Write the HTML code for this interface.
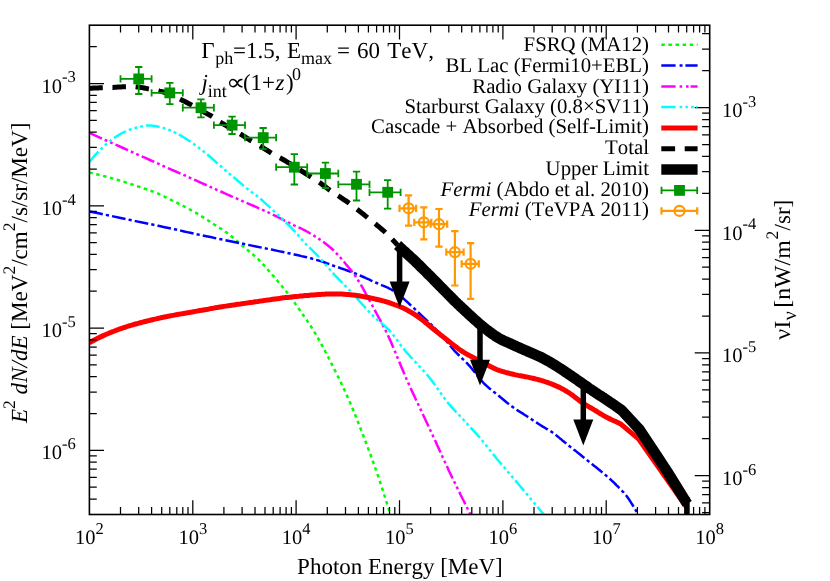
<!DOCTYPE html>
<html><head><meta charset="utf-8"><title>EGB spectrum</title>
<style>html,body{margin:0;padding:0;background:#fff}body{width:830px;height:581px;overflow:hidden;font-family:"Liberation Serif",serif}</style></head>
<body>
<svg width="830" height="581" viewBox="0 0 830 581" style="display:block;will-change:transform">
<rect width="830" height="581" fill="#fff"/>
<defs><clipPath id="c"><rect x="89.4" y="25.2" width="620.3" height="489.3"/></clipPath></defs>
<g clip-path="url(#c)" fill="none" stroke-linejoin="round">
<path d="M89.3 172.5 L90.5 172.8 L91.9 173.1 L93.6 173.5 L95.5 174.0 L97.6 174.5 L99.8 175.0 L102.1 175.6 L104.5 176.2 L106.9 176.8 L109.3 177.4 L111.6 178.1 L113.9 178.7 L116.2 179.4 L118.6 180.1 L121.1 180.9 L123.7 181.7 L126.3 182.6 L128.9 183.4 L131.5 184.3 L134.0 185.1 L136.4 185.9 L138.7 186.7 L140.8 187.4 L142.8 188.1 L144.6 188.7 L146.3 189.3 L147.8 189.8 L149.2 190.3 L150.6 190.8 L151.8 191.2 L153.1 191.7 L154.2 192.1 L155.4 192.6 L156.5 193.0 L157.6 193.4 L158.7 193.9 L159.8 194.4 L160.8 194.8 L161.8 195.3 L162.7 195.7 L163.6 196.1 L164.4 196.6 L165.3 197.0 L166.2 197.5 L167.1 197.9 L168.0 198.4 L169.0 198.9 L170.0 199.4 L171.1 199.9 L172.2 200.5 L173.4 201.1 L174.6 201.6 L175.8 202.2 L177.1 202.8 L178.3 203.5 L179.6 204.1 L180.8 204.7 L182.1 205.3 L183.3 206.0 L184.5 206.6 L185.7 207.2 L186.9 207.9 L188.1 208.5 L189.3 209.2 L190.5 209.8 L191.7 210.5 L192.9 211.1 L194.1 211.8 L195.3 212.5 L196.5 213.2 L197.7 213.9 L198.9 214.6 L200.1 215.3 L201.3 216.1 L202.5 216.9 L203.7 217.6 L204.9 218.4 L206.2 219.2 L207.4 220.0 L208.6 220.8 L209.8 221.6 L211.0 222.4 L212.2 223.2 L213.4 224.0 L214.6 224.8 L215.8 225.5 L217.0 226.3 L218.2 227.0 L219.4 227.8 L220.6 228.5 L221.8 229.3 L223.0 230.1 L224.2 230.8 L225.4 231.7 L226.6 232.5 L227.8 233.4 L229.0 234.3 L230.2 235.3 L231.4 236.3 L232.6 237.3 L233.8 238.3 L235.1 239.4 L236.3 240.4 L237.5 241.5 L238.7 242.6 L239.9 243.6 L241.1 244.7 L242.3 245.7 L243.5 246.7 L244.7 247.7 L246.0 248.7 L247.2 249.8 L248.4 250.8 L249.7 251.8 L250.9 252.8 L252.1 253.8 L253.3 254.8 L254.4 255.8 L255.6 256.9 L256.7 257.9 L257.8 258.9 L258.8 259.9 L259.7 260.8 L260.6 261.8 L261.5 262.7 L262.4 263.7 L263.3 264.7 L264.3 265.7 L265.3 266.8 L266.3 268.0 L267.5 269.3 L268.7 270.7 L270.0 272.2 L271.5 273.9 L273.0 275.7 L274.7 277.6 L276.3 279.5 L278.0 281.5 L279.7 283.5 L281.4 285.5 L283.0 287.5 L284.6 289.5 L286.1 291.3 L287.5 293.1 L288.8 294.8 L290.1 296.4 L291.2 298.0 L292.4 299.6 L293.5 301.1 L294.6 302.6 L295.6 304.2 L296.7 305.7 L297.7 307.2 L298.8 308.8 L299.9 310.4 L301.0 312.0 L302.1 313.6 L303.3 315.2 L304.4 316.8 L305.5 318.4 L306.6 319.9 L307.7 321.6 L308.9 323.2 L310.0 325.0 L311.2 326.8 L312.4 328.7 L313.7 330.7 L315.0 332.9 L316.3 335.2 L317.8 337.7 L319.2 340.3 L320.7 343.0 L322.2 345.8 L323.7 348.6 L325.2 351.5 L326.8 354.4 L328.3 357.3 L329.8 360.3 L331.3 363.2 L332.7 366.0 L334.1 368.8 L335.5 371.6 L336.9 374.4 L338.3 377.1 L339.6 379.9 L341.0 382.7 L342.3 385.5 L343.7 388.4 L345.0 391.3 L346.4 394.3 L347.7 397.3 L349.1 400.4 L350.5 403.6 L351.9 406.9 L353.3 410.3 L354.7 413.7 L356.1 417.2 L357.5 420.7 L358.8 424.3 L360.2 427.8 L361.6 431.3 L362.9 434.7 L364.2 438.0 L365.4 441.3 L366.6 444.5 L367.8 447.6 L369.0 450.7 L370.1 453.8 L371.2 456.8 L372.3 459.8 L373.4 462.8 L374.4 465.7 L375.5 468.6 L376.5 471.5 L377.5 474.4 L378.5 477.3 L379.5 480.2 L380.5 483.3 L381.5 486.4 L382.5 489.5 L383.5 492.6 L384.5 495.6 L385.4 498.5 L386.3 501.3 L387.1 503.9 L387.8 506.2 L388.5 508.3 L389.0 510.0 L389.4 511.4 L389.8 512.5 L390.0 513.3 L390.2 513.8 L390.3 514.2 L390.4 514.4 L390.4 514.6 L390.4 514.6 L390.4 514.6 L390.4 514.6 L390.4 514.7 L390.4 514.8" stroke="#00ff00" stroke-width="2.5" stroke-dasharray="3.5 3.6"/>
<path d="M89.3 211.4 L93.3 212.2 L98.6 213.3 L104.9 214.7 L111.9 216.1 L119.5 217.7 L127.5 219.4 L135.5 221.1 L143.5 222.7 L151.1 224.3 L158.3 225.8 L164.6 227.2 L170.0 228.3 L174.4 229.2 L177.9 230.0 L180.8 230.6 L183.2 231.2 L185.3 231.7 L187.2 232.1 L189.2 232.6 L191.3 233.0 L193.8 233.6 L196.8 234.3 L200.5 235.0 L205.0 236.0 L210.5 237.1 L216.9 238.5 L224.0 239.9 L231.7 241.5 L239.7 243.1 L247.9 244.8 L256.0 246.4 L264.0 248.1 L271.5 249.6 L278.5 251.1 L284.7 252.4 L290.0 253.5 L294.4 254.5 L298.2 255.3 L301.5 256.1 L304.3 256.7 L306.7 257.3 L308.9 257.8 L310.7 258.3 L312.4 258.8 L314.0 259.2 L315.6 259.7 L317.2 260.1 L318.9 260.6 L320.6 261.1 L322.2 261.6 L323.5 262.0 L324.8 262.5 L326.0 262.9 L327.1 263.3 L328.1 263.7 L329.1 264.1 L330.1 264.5 L331.2 264.9 L332.2 265.3 L333.4 265.7 L334.6 266.1 L335.8 266.5 L337.0 266.9 L338.2 267.3 L339.4 267.7 L340.6 268.2 L341.8 268.6 L343.0 269.0 L344.2 269.4 L345.4 269.8 L346.6 270.3 L347.8 270.7 L349.0 271.2 L350.2 271.6 L351.4 272.1 L352.6 272.5 L353.8 273.0 L355.1 273.5 L356.3 274.0 L357.5 274.5 L358.7 275.0 L359.9 275.5 L361.1 276.0 L362.3 276.5 L363.5 277.0 L364.7 277.5 L365.9 278.1 L367.1 278.6 L368.3 279.2 L369.5 279.7 L370.7 280.3 L371.9 280.8 L373.1 281.4 L374.3 281.9 L375.5 282.5 L376.7 283.0 L377.9 283.5 L379.1 284.1 L380.4 284.6 L381.6 285.1 L382.9 285.6 L384.1 286.1 L385.3 286.6 L386.6 287.2 L387.8 287.7 L388.9 288.3 L390.1 288.9 L391.2 289.5 L392.3 290.1 L393.3 290.8 L394.2 291.4 L395.2 292.0 L396.1 292.7 L397.0 293.3 L397.9 294.0 L398.9 294.8 L399.8 295.5 L400.8 296.4 L401.9 297.3 L403.0 298.2 L404.2 299.2 L405.4 300.3 L406.7 301.5 L408.0 302.7 L409.4 304.0 L410.8 305.3 L412.2 306.6 L413.6 307.9 L414.9 309.2 L416.3 310.5 L417.6 311.8 L418.9 313.0 L420.2 314.2 L421.4 315.3 L422.6 316.5 L423.8 317.6 L425.0 318.7 L426.2 319.8 L427.4 321.0 L428.6 322.1 L429.8 323.2 L431.0 324.4 L432.2 325.6 L433.4 326.8 L434.6 328.1 L435.9 329.4 L437.2 330.8 L438.5 332.2 L439.8 333.6 L441.1 335.1 L442.3 336.5 L443.5 337.9 L444.7 339.2 L445.8 340.4 L446.9 341.6 L447.8 342.7 L448.6 343.7 L449.3 344.5 L449.9 345.2 L450.5 345.9 L450.9 346.5 L451.4 347.1 L451.8 347.7 L452.3 348.3 L452.9 349.0 L453.5 349.7 L454.2 350.5 L455.0 351.4 L456.0 352.4 L457.0 353.4 L458.1 354.5 L459.3 355.7 L460.5 356.9 L461.8 358.1 L463.1 359.4 L464.4 360.6 L465.7 361.9 L467.0 363.2 L468.3 364.6 L469.5 365.9 L470.7 367.3 L471.9 368.7 L473.1 370.2 L474.3 371.7 L475.5 373.2 L476.7 374.7 L477.9 376.3 L479.1 377.8 L480.3 379.2 L481.5 380.7 L482.7 382.0 L483.9 383.3 L485.1 384.5 L486.3 385.6 L487.5 386.7 L488.7 387.8 L489.9 388.8 L491.2 389.8 L492.4 390.7 L493.6 391.7 L494.8 392.6 L496.0 393.6 L497.2 394.5 L498.4 395.5 L499.6 396.5 L500.8 397.5 L502.0 398.5 L503.2 399.5 L504.4 400.5 L505.6 401.5 L506.8 402.5 L508.0 403.4 L509.2 404.4 L510.4 405.3 L511.6 406.2 L512.8 407.1 L514.0 408.0 L515.2 408.8 L516.4 409.6 L517.6 410.4 L518.8 411.2 L520.0 411.9 L521.3 412.7 L522.5 413.4 L523.7 414.2 L524.9 415.0 L526.1 415.7 L527.3 416.5 L528.5 417.3 L529.7 418.1 L531.0 418.9 L532.2 419.7 L533.4 420.5 L534.7 421.3 L535.9 422.1 L537.1 422.9 L538.3 423.7 L539.5 424.5 L540.6 425.2 L541.7 425.9 L542.8 426.6 L543.8 427.2 L544.7 427.7 L545.7 428.3 L546.6 428.8 L547.5 429.3 L548.4 429.9 L549.3 430.4 L550.2 431.0 L551.2 431.6 L552.2 432.3 L553.3 433.1 L554.4 433.9 L555.5 434.7 L556.6 435.6 L557.7 436.5 L558.8 437.4 L560.0 438.4 L561.2 439.3 L562.4 440.4 L563.8 441.5 L565.1 442.6 L566.6 443.8 L568.2 445.1 L569.9 446.5 L571.8 447.9 L573.7 449.5 L575.8 451.1 L577.9 452.8 L580.1 454.5 L582.2 456.3 L584.4 458.0 L586.5 459.6 L588.5 461.3 L590.5 462.8 L592.3 464.3 L594.0 465.7 L595.7 467.0 L597.2 468.3 L598.8 469.5 L600.3 470.8 L601.8 471.9 L603.2 473.1 L604.6 474.3 L605.9 475.4 L607.3 476.6 L608.7 477.8 L610.0 479.0 L611.3 480.2 L612.7 481.5 L614.0 482.7 L615.3 484.0 L616.6 485.3 L617.9 486.5 L619.1 487.8 L620.3 489.0 L621.5 490.2 L622.5 491.3 L623.6 492.4 L624.5 493.5 L625.4 494.5 L626.1 495.4 L626.8 496.3 L627.5 497.2 L628.0 498.0 L628.6 498.8 L629.1 499.5 L629.6 500.3 L630.1 501.1 L630.6 501.9 L631.1 502.7 L631.7 503.6 L632.3 504.5 L632.9 505.5 L633.6 506.6 L634.2 507.7 L634.9 508.8 L635.5 509.8 L636.1 510.9 L636.7 511.9 L637.2 512.8 L637.7 513.6 L638.1 514.3 L638.4 514.8" stroke="#0000ff" stroke-width="2.5" stroke-dasharray="13.8 3.1 3.2 3.1"/>
<path d="M89.3 132.8 L92.2 134.1 L96.0 135.8 L100.3 137.8 L105.2 140.0 L110.5 142.3 L116.2 144.9 L122.0 147.5 L127.9 150.1 L133.7 152.8 L139.4 155.3 L144.8 157.7 L149.9 160.0 L154.8 162.2 L159.7 164.4 L164.7 166.6 L169.6 168.8 L174.6 171.0 L179.4 173.1 L184.2 175.2 L188.8 177.3 L193.2 179.2 L197.4 181.1 L201.3 182.9 L205.0 184.5 L208.3 186.0 L211.3 187.3 L214.0 188.5 L216.4 189.6 L218.7 190.6 L220.8 191.5 L222.9 192.5 L224.9 193.4 L227.0 194.3 L229.3 195.3 L231.6 196.4 L234.2 197.5 L237.0 198.7 L240.0 200.0 L243.1 201.4 L246.2 202.7 L249.4 204.1 L252.7 205.5 L255.9 206.9 L259.0 208.3 L262.0 209.6 L264.9 210.9 L267.5 212.1 L270.0 213.2 L272.2 214.3 L274.3 215.3 L276.2 216.2 L278.0 217.1 L279.7 218.0 L281.3 218.9 L282.9 219.7 L284.3 220.5 L285.8 221.2 L287.2 222.0 L288.6 222.7 L290.0 223.4 L291.4 224.1 L292.7 224.7 L294.0 225.3 L295.2 225.8 L296.4 226.4 L297.6 226.9 L298.7 227.4 L299.9 227.9 L301.0 228.4 L302.2 229.0 L303.3 229.6 L304.5 230.2 L305.7 230.9 L306.9 231.5 L308.2 232.2 L309.4 233.0 L310.6 233.7 L311.9 234.4 L313.1 235.2 L314.3 235.9 L315.5 236.7 L316.7 237.4 L317.8 238.2 L318.9 238.9 L320.0 239.6 L321.0 240.3 L322.1 241.1 L323.1 241.8 L324.1 242.5 L325.1 243.2 L326.0 244.0 L327.0 244.7 L327.9 245.4 L328.8 246.2 L329.6 246.9 L330.5 247.6 L331.3 248.3 L332.1 249.0 L332.9 249.7 L333.6 250.4 L334.3 251.2 L335.0 251.9 L335.7 252.6 L336.4 253.3 L337.1 254.0 L337.8 254.8 L338.5 255.5 L339.2 256.3 L339.9 257.1 L340.7 257.9 L341.4 258.8 L342.2 259.7 L342.9 260.6 L343.7 261.4 L344.4 262.3 L345.1 263.2 L345.8 264.0 L346.5 264.9 L347.2 265.7 L347.8 266.4 L348.4 267.1 L348.9 267.8 L349.4 268.4 L349.9 269.0 L350.4 269.5 L350.9 270.1 L351.3 270.6 L351.8 271.2 L352.2 271.8 L352.7 272.3 L353.1 273.0 L353.6 273.6 L354.1 274.3 L354.6 274.9 L355.1 275.6 L355.5 276.3 L356.0 277.0 L356.5 277.8 L357.0 278.5 L357.5 279.2 L357.9 280.0 L358.4 280.7 L358.9 281.5 L359.4 282.3 L359.9 283.1 L360.3 283.8 L360.7 284.4 L361.1 285.1 L361.5 285.8 L361.9 286.5 L362.3 287.2 L362.8 288.1 L363.3 289.0 L363.8 290.0 L364.5 291.2 L365.2 292.5 L366.0 294.0 L366.9 295.6 L367.9 297.4 L369.0 299.4 L370.0 301.4 L371.2 303.4 L372.3 305.5 L373.5 307.7 L374.6 309.8 L375.7 311.9 L376.8 314.0 L377.9 316.0 L378.9 317.9 L379.9 319.7 L380.8 321.4 L381.7 323.1 L382.6 324.8 L383.5 326.5 L384.4 328.3 L385.4 330.2 L386.4 332.2 L387.5 334.4 L388.6 336.8 L389.8 339.4 L391.1 342.3 L392.4 345.4 L393.8 348.6 L395.2 352.1 L396.7 355.6 L398.2 359.3 L399.8 363.1 L401.4 366.9 L403.0 370.8 L404.6 374.7 L406.3 378.5 L408.0 382.4 L409.8 386.3 L411.6 390.3 L413.5 394.4 L415.4 398.5 L417.4 402.7 L419.4 406.9 L421.4 411.1 L423.3 415.3 L425.3 419.5 L427.2 423.5 L429.1 427.5 L430.9 431.4 L432.7 435.2 L434.4 438.9 L436.1 442.6 L437.7 446.3 L439.4 449.9 L441.0 453.5 L442.6 457.0 L444.2 460.5 L445.8 463.9 L447.4 467.3 L448.9 470.7 L450.5 474.0 L452.1 477.4 L453.8 480.8 L455.5 484.3 L457.2 487.8 L458.9 491.3 L460.6 494.7 L462.2 498.0 L463.8 501.0 L465.2 503.9 L466.5 506.4 L467.6 508.7 L468.5 510.6 L469.2 512.1 L469.8 513.2 L470.2 514.0 L470.4 514.6 L470.5 514.9 L470.6 515.0 L470.6 515.0 L470.5 514.9 L470.4 514.8 L470.4 514.7 L470.4 514.7 L470.4 514.8" stroke="#ff00ff" stroke-width="2.5" stroke-dasharray="13.8 3.1 2.8 3.1 2.8 3.1"/>
<path d="M89.3 162.0 L89.8 161.4 L90.4 160.8 L91.0 160.0 L91.8 159.0 L92.6 158.1 L93.5 157.0 L94.4 155.9 L95.4 154.8 L96.4 153.7 L97.4 152.6 L98.5 151.5 L99.5 150.5 L100.6 149.5 L101.7 148.4 L102.8 147.4 L104.0 146.3 L105.2 145.2 L106.4 144.1 L107.7 143.1 L108.9 142.0 L110.2 141.0 L111.4 140.0 L112.7 139.1 L113.9 138.2 L115.1 137.4 L116.3 136.6 L117.5 135.8 L118.7 135.1 L119.9 134.4 L121.1 133.7 L122.4 133.0 L123.6 132.4 L124.8 131.8 L126.0 131.3 L127.2 130.7 L128.4 130.2 L129.6 129.7 L130.9 129.3 L132.2 128.8 L133.5 128.4 L134.8 128.1 L136.1 127.7 L137.3 127.4 L138.5 127.1 L139.7 126.9 L140.8 126.6 L141.8 126.4 L142.8 126.2 L143.6 126.0 L144.4 125.9 L145.1 125.8 L145.7 125.7 L146.2 125.6 L146.7 125.6 L147.2 125.5 L147.7 125.5 L148.2 125.5 L148.8 125.5 L149.4 125.6 L150.1 125.6 L150.8 125.6 L151.6 125.7 L152.4 125.8 L153.2 125.9 L154.0 126.0 L154.9 126.1 L155.8 126.2 L156.6 126.3 L157.5 126.5 L158.4 126.7 L159.3 126.9 L160.2 127.1 L161.1 127.3 L162.0 127.6 L162.9 127.8 L163.8 128.1 L164.7 128.4 L165.7 128.6 L166.6 129.0 L167.6 129.3 L168.6 129.7 L169.6 130.1 L170.6 130.5 L171.7 131.0 L172.8 131.5 L173.9 132.0 L175.0 132.6 L176.2 133.1 L177.3 133.7 L178.5 134.3 L179.7 135.0 L180.9 135.7 L182.2 136.4 L183.5 137.2 L184.8 138.0 L186.2 138.9 L187.6 139.8 L189.1 140.8 L190.6 141.8 L192.1 142.9 L193.7 144.0 L195.3 145.2 L196.9 146.4 L198.5 147.6 L200.1 148.8 L201.8 150.1 L203.4 151.3 L205.0 152.6 L206.6 153.9 L208.2 155.2 L209.7 156.5 L211.3 157.9 L212.9 159.3 L214.5 160.7 L216.1 162.1 L217.7 163.6 L219.4 165.0 L221.1 166.5 L222.8 168.1 L224.6 169.6 L226.5 171.2 L228.5 172.9 L230.6 174.7 L232.8 176.6 L235.0 178.4 L237.2 180.3 L239.4 182.1 L241.5 183.9 L243.5 185.6 L245.4 187.2 L247.2 188.7 L248.8 190.0 L250.2 191.1 L251.3 191.9 L252.2 192.6 L253.0 193.2 L253.7 193.6 L254.4 194.1 L255.1 194.5 L255.9 195.1 L256.8 195.7 L257.9 196.6 L259.1 197.6 L260.7 199.0 L262.6 200.7 L264.7 202.6 L267.1 204.8 L269.7 207.2 L272.4 209.7 L275.2 212.3 L278.0 214.9 L280.7 217.4 L283.3 219.9 L285.8 222.3 L288.0 224.5 L290.0 226.4 L291.7 228.1 L293.3 229.8 L294.7 231.3 L295.9 232.7 L297.1 234.0 L298.2 235.3 L299.2 236.5 L300.2 237.7 L301.2 238.9 L302.3 240.0 L303.3 241.3 L304.5 242.5 L305.7 243.8 L306.9 245.0 L308.1 246.2 L309.3 247.4 L310.5 248.5 L311.7 249.7 L312.9 250.9 L314.1 252.1 L315.3 253.3 L316.5 254.5 L317.7 255.7 L318.9 257.0 L320.1 258.3 L321.3 259.6 L322.5 261.0 L323.6 262.3 L324.8 263.7 L326.0 265.1 L327.2 266.5 L328.4 267.9 L329.6 269.3 L330.8 270.7 L332.1 272.2 L333.4 273.6 L334.7 275.0 L336.1 276.5 L337.5 277.9 L338.8 279.3 L340.2 280.7 L341.7 282.2 L343.1 283.7 L344.6 285.2 L346.1 286.7 L347.6 288.2 L349.1 289.8 L350.7 291.5 L352.3 293.2 L354.0 295.0 L355.6 296.9 L357.4 298.8 L359.1 300.8 L360.9 302.7 L362.6 304.7 L364.4 306.7 L366.1 308.6 L367.8 310.4 L369.5 312.2 L371.2 313.9 L372.8 315.5 L374.5 317.0 L376.1 318.5 L377.8 320.0 L379.4 321.4 L381.0 322.7 L382.6 324.1 L384.1 325.4 L385.6 326.8 L387.1 328.2 L388.6 329.6 L390.0 331.1 L391.4 332.6 L392.7 334.2 L393.9 335.8 L395.2 337.4 L396.4 339.0 L397.5 340.6 L398.7 342.2 L399.8 343.8 L401.0 345.4 L402.1 346.9 L403.3 348.4 L404.5 349.9 L405.7 351.3 L406.9 352.8 L408.2 354.1 L409.4 355.5 L410.6 356.9 L411.9 358.2 L413.1 359.5 L414.3 360.8 L415.5 362.1 L416.7 363.3 L417.8 364.6 L418.9 365.8 L419.9 367.0 L420.9 368.0 L421.9 369.0 L422.8 370.0 L423.7 371.0 L424.5 371.9 L425.4 372.9 L426.4 373.9 L427.3 375.0 L428.3 376.2 L429.4 377.5 L430.5 378.9 L431.7 380.5 L433.0 382.2 L434.3 384.1 L435.7 386.0 L437.2 388.1 L438.6 390.1 L440.1 392.2 L441.5 394.3 L443.0 396.3 L444.5 398.3 L445.9 400.2 L447.3 402.0 L448.7 403.7 L450.1 405.3 L451.4 406.9 L452.8 408.4 L454.2 409.9 L455.5 411.3 L456.9 412.8 L458.3 414.2 L459.6 415.6 L461.0 417.1 L462.3 418.5 L463.7 420.0 L465.1 421.5 L466.4 422.9 L467.7 424.4 L469.1 425.8 L470.4 427.2 L471.7 428.7 L473.0 430.1 L474.4 431.6 L475.8 433.1 L477.1 434.7 L478.6 436.3 L480.0 438.0 L481.5 439.7 L482.9 441.5 L484.4 443.4 L486.0 445.2 L487.5 447.1 L489.0 449.1 L490.6 451.0 L492.2 453.0 L493.8 455.0 L495.4 457.0 L497.0 459.0 L498.7 461.0 L500.4 463.0 L502.1 465.0 L503.8 467.0 L505.5 469.0 L507.3 471.1 L509.0 473.1 L510.8 475.2 L512.6 477.3 L514.4 479.4 L516.3 481.6 L518.1 483.8 L520.0 486.0 L522.0 488.4 L524.1 490.9 L526.4 493.6 L528.7 496.4 L531.0 499.2 L533.3 502.0 L535.6 504.6 L537.7 507.2 L539.6 509.5 L541.4 511.6 L542.8 513.4 L544.0 514.8" stroke="#00ffff" stroke-width="2.5" stroke-dasharray="13.8 3.1 2.8 3.1 2.8 3.1 2.8 3.1"/>
<path d="M89.3 342.8 L89.8 342.5 L90.4 342.2 L91.0 341.8 L91.8 341.4 L92.6 341.0 L93.5 340.5 L94.4 340.0 L95.4 339.5 L96.4 338.9 L97.4 338.4 L98.5 337.9 L99.5 337.4 L100.6 336.9 L101.7 336.4 L102.8 335.9 L104.0 335.4 L105.2 334.8 L106.4 334.3 L107.7 333.7 L108.9 333.2 L110.2 332.7 L111.4 332.2 L112.7 331.7 L113.9 331.2 L115.1 330.7 L116.3 330.3 L117.5 329.8 L118.7 329.4 L119.9 328.9 L121.1 328.5 L122.4 328.1 L123.6 327.7 L124.8 327.3 L126.0 326.9 L127.2 326.5 L128.4 326.1 L129.6 325.7 L130.8 325.4 L132.0 325.0 L133.2 324.7 L134.4 324.3 L135.6 324.0 L136.8 323.7 L138.0 323.4 L139.2 323.0 L140.4 322.7 L141.6 322.4 L142.8 322.1 L144.0 321.8 L145.2 321.5 L146.4 321.2 L147.6 320.9 L148.8 320.6 L150.1 320.3 L151.3 320.0 L152.5 319.7 L153.7 319.4 L154.9 319.1 L156.1 318.9 L157.3 318.6 L158.5 318.3 L159.7 318.1 L160.9 317.8 L162.1 317.5 L163.3 317.3 L164.5 317.0 L165.7 316.8 L166.9 316.6 L168.1 316.3 L169.3 316.1 L170.5 315.8 L171.7 315.6 L172.9 315.4 L174.1 315.2 L175.2 314.9 L176.4 314.7 L177.5 314.5 L178.7 314.3 L179.8 314.1 L181.0 313.9 L182.3 313.7 L183.5 313.5 L184.8 313.2 L186.2 313.0 L187.6 312.7 L189.1 312.5 L190.6 312.2 L192.1 312.0 L193.7 311.7 L195.3 311.4 L196.9 311.1 L198.6 310.8 L200.2 310.5 L201.8 310.3 L203.4 310.0 L205.0 309.7 L206.5 309.4 L208.0 309.2 L209.5 308.9 L210.9 308.6 L212.4 308.4 L213.8 308.1 L215.3 307.8 L216.9 307.6 L218.5 307.3 L220.2 307.0 L222.0 306.7 L223.9 306.4 L226.0 306.1 L228.1 305.8 L230.4 305.4 L232.8 305.1 L235.2 304.7 L237.7 304.3 L240.3 304.0 L242.8 303.6 L245.3 303.3 L247.9 302.9 L250.4 302.5 L252.8 302.2 L255.2 301.8 L257.7 301.5 L260.2 301.1 L262.7 300.8 L265.2 300.4 L267.7 300.0 L270.1 299.7 L272.6 299.3 L275.0 299.0 L277.3 298.7 L279.5 298.4 L281.7 298.1 L283.8 297.8 L285.8 297.6 L287.8 297.4 L289.7 297.2 L291.6 297.0 L293.4 296.8 L295.2 296.6 L297.0 296.4 L298.7 296.3 L300.4 296.1 L302.1 296.0 L303.7 295.8 L305.3 295.6 L306.8 295.5 L308.3 295.4 L309.8 295.2 L311.2 295.1 L312.6 295.0 L313.9 294.9 L315.3 294.8 L316.6 294.7 L317.9 294.6 L319.3 294.5 L320.6 294.4 L321.9 294.3 L323.2 294.2 L324.5 294.2 L325.8 294.1 L327.1 294.1 L328.3 294.0 L329.6 294.0 L330.8 293.9 L332.0 293.9 L333.3 293.9 L334.5 293.9 L335.8 293.9 L337.1 293.9 L338.4 294.0 L339.6 294.0 L340.9 294.1 L342.2 294.1 L343.5 294.2 L344.8 294.3 L346.1 294.4 L347.3 294.5 L348.6 294.6 L349.8 294.7 L351.0 294.8 L352.2 294.9 L353.3 295.1 L354.5 295.2 L355.6 295.3 L356.7 295.5 L357.8 295.7 L358.8 295.8 L359.9 296.0 L361.1 296.2 L362.2 296.4 L363.3 296.6 L364.5 296.8 L365.7 297.0 L367.0 297.3 L368.3 297.5 L369.6 297.8 L370.9 298.1 L372.2 298.3 L373.6 298.6 L374.9 298.9 L376.1 299.2 L377.3 299.5 L378.5 299.7 L379.6 300.0 L380.6 300.2 L381.6 300.5 L382.4 300.7 L383.3 300.9 L384.1 301.1 L384.8 301.3 L385.6 301.6 L386.4 301.8 L387.2 302.1 L388.1 302.3 L389.0 302.7 L390.0 303.0 L391.1 303.4 L392.2 303.8 L393.3 304.2 L394.5 304.6 L395.8 305.0 L397.0 305.5 L398.3 306.0 L399.5 306.5 L400.8 307.0 L402.0 307.5 L403.3 308.1 L404.5 308.7 L405.7 309.3 L406.9 309.9 L408.1 310.6 L409.3 311.3 L410.5 312.0 L411.7 312.7 L412.9 313.4 L414.1 314.2 L415.3 315.0 L416.5 315.7 L417.7 316.6 L418.9 317.4 L420.1 318.3 L421.3 319.2 L422.5 320.1 L423.7 321.1 L424.9 322.0 L426.1 323.0 L427.4 324.0 L428.6 325.0 L429.8 326.0 L431.0 327.0 L432.2 328.0 L433.4 329.0 L434.6 330.0 L435.8 330.9 L437.0 331.9 L438.2 332.9 L439.4 333.8 L440.6 334.8 L441.8 335.8 L443.0 336.7 L444.2 337.7 L445.4 338.6 L446.6 339.6 L447.8 340.5 L449.0 341.4 L450.2 342.4 L451.4 343.3 L452.6 344.3 L453.8 345.2 L455.1 346.2 L456.3 347.1 L457.5 348.0 L458.7 348.9 L459.9 349.8 L461.1 350.6 L462.3 351.4 L463.5 352.2 L464.7 352.9 L465.9 353.6 L467.1 354.3 L468.3 354.9 L469.5 355.6 L470.7 356.2 L471.9 356.8 L473.1 357.4 L474.3 358.0 L475.5 358.7 L476.7 359.3 L477.9 360.0 L479.2 360.6 L480.5 361.3 L481.7 362.0 L483.0 362.7 L484.3 363.4 L485.6 364.0 L486.8 364.7 L488.0 365.3 L489.1 365.9 L490.2 366.4 L491.2 366.9 L492.1 367.3 L492.9 367.8 L493.7 368.1 L494.3 368.4 L495.0 368.7 L495.6 369.0 L496.2 369.3 L496.9 369.6 L497.5 369.8 L498.3 370.1 L499.1 370.4 L500.0 370.7 L501.0 371.0 L502.1 371.4 L503.2 371.7 L504.4 372.0 L505.6 372.4 L506.9 372.7 L508.2 373.0 L509.5 373.4 L510.7 373.7 L512.0 374.0 L513.3 374.3 L514.5 374.6 L515.7 374.9 L516.9 375.1 L518.1 375.4 L519.3 375.6 L520.5 375.8 L521.7 376.0 L522.9 376.2 L524.1 376.4 L525.3 376.7 L526.5 376.9 L527.7 377.1 L528.9 377.4 L530.1 377.7 L531.3 377.9 L532.5 378.2 L533.7 378.5 L534.9 378.8 L536.1 379.1 L537.4 379.4 L538.6 379.7 L539.8 380.0 L541.0 380.4 L542.2 380.7 L543.4 381.1 L544.6 381.5 L545.8 381.9 L547.1 382.3 L548.3 382.7 L549.5 383.2 L550.7 383.7 L552.0 384.1 L553.2 384.6 L554.4 385.1 L555.5 385.6 L556.7 386.1 L557.8 386.6 L558.9 387.1 L560.0 387.6 L561.0 388.2 L562.0 388.7 L563.0 389.3 L564.0 389.8 L565.0 390.4 L566.0 391.0 L567.0 391.6 L568.0 392.2 L569.0 392.8 L570.0 393.5 L571.0 394.2 L572.0 394.9 L573.0 395.6 L574.0 396.4 L575.0 397.2 L576.0 398.0 L577.0 398.8 L578.0 399.5 L579.0 400.3 L580.0 401.1 L581.0 401.8 L582.0 402.5 L583.0 403.2 L584.0 403.8 L585.0 404.4 L586.0 405.1 L587.0 405.7 L588.0 406.3 L589.1 406.9 L590.1 407.4 L591.1 408.0 L592.1 408.6 L593.1 409.2 L594.1 409.8 L595.1 410.4 L596.1 411.0 L597.1 411.6 L598.1 412.3 L599.1 412.9 L600.1 413.5 L601.1 414.1 L602.1 414.7 L603.1 415.3 L604.1 415.9 L605.1 416.5 L606.1 417.0 L607.1 417.5 L608.2 418.1 L609.3 418.6 L610.4 419.1 L611.6 419.7 L612.7 420.2 L613.8 420.7 L614.8 421.1 L615.8 421.6 L616.7 422.0 L617.5 422.4 L618.2 422.7 L618.8 423.0 L619.3 423.3 L619.8 423.5 L620.2 423.7 L620.5 423.9 L620.8 424.1 L621.0 424.3 L621.2 424.4 L621.4 424.5 L621.5 424.6 L621.7 424.7 L621.8 424.8 L638.5 438.8 L686.4 507.0" stroke="#ff0000" stroke-width="5"/>
<path d="M89.3 88.3 L90.0 88.3 L90.8 88.2 L91.9 88.2 L93.0 88.1 L94.2 88.1 L95.6 88.0 L96.9 88.0 L98.2 87.9 L99.5 87.8 L100.8 87.8 L102.0 87.7 L103.0 87.7 L103.9 87.7 L104.8 87.6 L105.6 87.6 L106.3 87.6 L107.1 87.6 L107.8 87.6 L108.5 87.5 L109.2 87.5 L110.0 87.5 L110.8 87.5 L111.6 87.4 L112.5 87.4 L113.5 87.4 L114.5 87.3 L115.6 87.2 L116.7 87.2 L117.8 87.1 L118.9 87.0 L120.1 87.0 L121.2 86.9 L122.3 86.8 L123.4 86.8 L124.5 86.7 L125.5 86.7 L126.5 86.7 L127.4 86.6 L128.3 86.6 L129.1 86.6 L129.9 86.6 L130.8 86.6 L131.6 86.6 L132.4 86.6 L133.3 86.6 L134.2 86.7 L135.1 86.7 L136.0 86.8 L137.0 86.9 L137.9 87.0 L138.9 87.1 L139.9 87.3 L140.9 87.5 L141.9 87.6 L143.0 87.8 L144.0 88.0 L145.1 88.2 L146.3 88.4 L147.4 88.7 L148.6 88.9 L149.8 89.1 L151.1 89.4 L152.5 89.6 L153.9 89.9 L155.3 90.2 L156.7 90.4 L158.1 90.7 L159.6 91.1 L161.0 91.4 L162.4 91.7 L163.7 92.1 L165.0 92.5 L166.3 92.9 L167.5 93.4 L168.7 93.8 L169.8 94.3 L171.0 94.9 L172.2 95.4 L173.3 95.9 L174.4 96.5 L175.6 97.0 L176.7 97.6 L177.8 98.1 L179.0 98.7 L180.2 99.3 L181.4 99.8 L182.6 100.4 L183.8 101.0 L185.0 101.6 L186.2 102.2 L187.3 102.8 L188.5 103.4 L189.7 104.0 L190.8 104.6 L191.9 105.2 L193.0 105.8 L194.1 106.4 L195.1 106.9 L196.1 107.5 L197.2 108.1 L198.2 108.7 L199.1 109.2 L200.1 109.8 L201.0 110.3 L201.9 110.8 L202.8 111.3 L203.7 111.8 L204.5 112.3 L205.3 112.7 L206.0 113.1 L206.7 113.5 L207.4 113.9 L208.1 114.3 L208.7 114.6 L209.3 114.9 L210.0 115.3 L210.6 115.6 L211.2 116.0 L211.8 116.3 L212.4 116.7 L213.0 117.1 L213.6 117.5 L214.2 117.9 L214.8 118.3 L215.4 118.8 L216.0 119.2 L216.6 119.6 L217.2 120.1 L217.8 120.5 L218.4 120.9 L219.0 121.3 L219.6 121.7 L220.2 122.1 L220.8 122.4 L221.3 122.8 L221.8 123.1 L222.4 123.4 L222.9 123.8 L223.5 124.1 L224.1 124.4 L224.7 124.8 L225.4 125.2 L226.1 125.6 L226.9 126.1 L227.8 126.6 L228.7 127.1 L229.6 127.7 L230.7 128.3 L231.7 128.9 L232.8 129.5 L233.9 130.2 L235.0 130.8 L236.1 131.4 L237.1 132.1 L238.2 132.7 L239.2 133.3 L240.2 133.9 L241.2 134.5 L242.2 135.1 L243.2 135.8 L244.2 136.4 L245.2 137.0 L246.1 137.6 L247.1 138.3 L248.0 138.8 L249.0 139.4 L249.8 140.0 L250.7 140.5 L251.5 141.0 L252.3 141.4 L253.0 141.9 L253.7 142.3 L254.4 142.7 L255.0 143.1 L255.7 143.4 L256.4 143.8 L257.1 144.2 L257.8 144.7 L258.6 145.1 L259.4 145.6 L260.3 146.1 L261.2 146.7 L262.2 147.3 L263.2 147.9 L264.2 148.6 L265.2 149.2 L266.3 149.9 L267.3 150.5 L268.3 151.1 L269.2 151.7 L270.2 152.3 L271.0 152.8 L271.8 153.3 L272.5 153.7 L273.1 154.0 L273.7 154.4 L274.3 154.7 L274.9 155.0 L275.5 155.3 L276.1 155.6 L276.7 156.0 L277.4 156.3 L278.1 156.7 L278.9 157.2 L279.7 157.7 L280.5 158.1 L281.3 158.6 L282.1 159.0 L283.0 159.5 L283.9 160.0 L284.8 160.5 L285.8 161.1 L287.0 161.8 L288.2 162.6 L289.6 163.4 L291.2 164.4 L293.0 165.5 L295.0 166.8 L297.3 168.2 L299.7 169.8 L302.2 171.4 L304.8 173.0 L307.3 174.6 L309.8 176.2 L312.2 177.8 L314.4 179.2 L316.5 180.5 L318.2 181.7 L319.7 182.7 L320.9 183.5 L321.9 184.3 L322.8 184.9 L323.6 185.5 L324.3 186.0 L325.0 186.6 L325.7 187.1 L326.5 187.7 L327.3 188.3 L328.3 189.1 L329.5 189.9 L330.9 190.8 L332.3 191.8 L333.9 192.9 L335.5 193.9 L337.2 195.1 L338.9 196.2 L340.6 197.4 L342.4 198.6 L344.2 199.8 L345.9 200.9 L347.6 202.1 L349.2 203.3 L350.8 204.5 L352.4 205.7 L354.0 206.8 L355.5 208.1 L357.1 209.3 L358.6 210.5 L360.2 211.7 L361.7 212.9 L363.3 214.1 L364.8 215.4 L366.3 216.6 L367.8 217.8 L369.3 219.0 L370.8 220.2 L372.4 221.5 L373.9 222.7 L375.4 223.9 L376.9 225.2 L378.4 226.4 L379.9 227.6 L381.3 228.8 L382.7 230.0 L384.0 231.2 L385.3 232.3 L386.5 233.5 L387.8 234.7 L389.0 235.9 L390.2 237.2 L391.4 238.4 L392.5 239.6 L393.6 240.8 L394.6 241.8 L395.5 242.8 L396.3 243.7 L397.0 244.5 L397.6 245.1" stroke="#000" stroke-width="5" stroke-dasharray="13.5 9.7"/>
<path d="M397.6 245.1 L398.6 246.0 L399.8 247.1 L401.2 248.4 L402.8 249.9 L404.6 251.5 L406.4 253.2 L408.4 255.0 L410.4 256.9 L412.5 258.8 L414.7 260.8 L416.8 262.9 L418.9 264.9 L421.1 267.1 L423.5 269.5 L426.1 272.0 L428.7 274.7 L431.5 277.4 L434.2 280.2 L436.9 282.9 L439.4 285.5 L441.9 288.0 L444.1 290.3 L446.1 292.3 L447.8 294.0 L449.2 295.4 L450.3 296.5 L451.2 297.4 L451.9 298.1 L452.5 298.7 L452.9 299.2 L453.3 299.6 L453.7 299.9 L454.1 300.3 L454.5 300.8 L455.1 301.3 L455.8 302.0 L456.6 302.8 L457.4 303.6 L458.3 304.4 L459.2 305.3 L460.1 306.2 L461.1 307.0 L462.0 307.9 L463.0 308.8 L463.9 309.7 L464.9 310.6 L465.8 311.5 L466.7 312.3 L467.6 313.1 L468.5 314.0 L469.4 314.8 L470.3 315.6 L471.2 316.5 L472.1 317.3 L473.0 318.1 L473.9 318.9 L474.8 319.7 L475.7 320.5 L476.6 321.3 L477.5 322.1 L478.4 322.9 L479.3 323.7 L480.2 324.4 L481.1 325.2 L482.0 325.9 L483.0 326.7 L483.9 327.4 L484.8 328.2 L485.7 328.9 L486.6 329.6 L487.5 330.3 L488.4 331.0 L489.3 331.7 L490.2 332.3 L491.1 333.0 L492.0 333.7 L492.9 334.3 L493.8 334.9 L494.7 335.6 L495.6 336.2 L496.5 336.7 L497.4 337.3 L498.3 337.9 L499.2 338.4 L500.1 338.9 L501.0 339.4 L501.9 339.8 L502.8 340.3 L503.7 340.7 L504.6 341.1 L505.6 341.5 L506.5 341.9 L507.4 342.3 L508.3 342.7 L509.2 343.1 L510.1 343.5 L511.0 343.9 L511.9 344.3 L512.8 344.7 L513.7 345.2 L514.6 345.6 L515.5 346.0 L516.4 346.4 L517.3 346.8 L518.2 347.2 L519.1 347.6 L520.0 348.0 L520.9 348.4 L521.8 348.8 L522.7 349.2 L523.6 349.6 L524.5 350.0 L525.4 350.3 L526.2 350.7 L527.1 351.1 L528.0 351.5 L528.9 351.9 L529.8 352.3 L530.8 352.7 L531.7 353.1 L532.6 353.5 L533.6 353.9 L534.5 354.3 L535.4 354.7 L536.4 355.1 L537.3 355.6 L538.3 356.0 L539.3 356.5 L540.3 356.9 L541.3 357.4 L542.3 357.9 L543.4 358.5 L544.5 359.1 L545.6 359.7 L546.8 360.4 L548.0 361.0 L549.2 361.7 L550.4 362.4 L551.7 363.2 L552.9 363.9 L554.1 364.6 L555.4 365.4 L556.6 366.1 L557.8 366.9 L559.0 367.7 L560.3 368.5 L561.5 369.3 L562.8 370.1 L564.1 371.0 L565.3 371.9 L566.6 372.7 L567.8 373.5 L569.0 374.4 L570.2 375.1 L571.3 375.9 L572.3 376.6 L573.3 377.3 L574.2 377.9 L575.0 378.4 L575.8 379.0 L576.6 379.5 L577.3 380.0 L578.0 380.5 L578.8 381.1 L579.5 381.6 L580.3 382.1 L581.1 382.7 L582.0 383.3 L582.9 383.9 L583.9 384.6 L584.9 385.3 L585.9 386.0 L586.9 386.7 L587.9 387.4 L588.9 388.2 L590.0 388.9 L591.0 389.6 L592.1 390.3 L593.1 391.0 L594.1 391.7 L595.1 392.4 L596.1 393.0 L597.1 393.7 L598.1 394.3 L599.1 395.0 L600.1 395.6 L601.1 396.2 L602.1 396.9 L603.1 397.5 L604.1 398.2 L605.1 398.8 L606.1 399.5 L607.1 400.2 L608.2 400.9 L609.3 401.7 L610.4 402.4 L611.6 403.2 L612.7 404.0 L613.8 404.7 L614.8 405.4 L615.8 406.1 L616.7 406.7 L617.5 407.3 L618.2 407.8 L618.8 408.2 L619.3 408.6 L619.8 408.9 L620.2 409.2 L620.5 409.4 L620.8 409.6 L621.0 409.8 L621.2 409.9 L621.4 410.1 L621.5 410.2 L621.7 410.3 L621.8 410.4 L639.6 429.6 L656.5 455.2 L667.3 471.6 L687.2 503.8" stroke="#000" stroke-width="10.7" stroke-linejoin="round"/>
<path d="M686.9 497V520" stroke="#000" stroke-width="5.6"/>
</g>
<line x1="399.6" y1="244.5" x2="399.6" y2="283.5" stroke="#000" stroke-width="5.5"/>
<path d="M389.6 281.5 L409.6 281.5 L399.6 307.5 Z" fill="#000"/>
<line x1="480.0" y1="324.0" x2="480.0" y2="361.7" stroke="#000" stroke-width="5.5"/>
<path d="M470.0 359.7 L490.0 359.7 L480.0 385.5 Z" fill="#000"/>
<line x1="583.3" y1="383.0" x2="583.3" y2="421.4" stroke="#000" stroke-width="5.5"/>
<path d="M573.3 419.4 L593.3 419.4 L583.3 445.5 Z" fill="#000"/>
<g stroke="#009400" stroke-width="1.8" fill="none">
<path d="M120.5 78.9 H151.6 M120.5 75.2 V82.6 M151.6 75.2 V82.6"/>
<path d="M138.7 67.0 V94.0 M135.1 67.0 H142.4 M135.1 94.0 H142.4"/>
</g>
<rect x="133.3" y="73.5" width="10.8" height="10.8" fill="#009400"/>
<g stroke="#009400" stroke-width="1.8" fill="none">
<path d="M151.6 92.9 H182.8 M151.6 89.2 V96.6 M182.8 89.2 V96.6"/>
<path d="M169.8 82.9 V104.2 M166.2 82.9 H173.5 M166.2 104.2 H173.5"/>
</g>
<rect x="164.4" y="87.5" width="10.8" height="10.8" fill="#009400"/>
<g stroke="#009400" stroke-width="1.8" fill="none">
<path d="M182.8 107.7 H213.9 M182.8 104.0 V111.4 M213.9 104.0 V111.4"/>
<path d="M201.0 99.3 V117.4 M197.3 99.3 H204.6 M197.3 117.4 H204.6"/>
</g>
<rect x="195.6" y="102.3" width="10.8" height="10.8" fill="#009400"/>
<g stroke="#009400" stroke-width="1.8" fill="none">
<path d="M213.9 125.1 H245.0 M213.9 121.4 V128.8 M245.0 121.4 V128.8"/>
<path d="M232.1 116.7 V134.0 M228.4 116.7 H235.7 M228.4 134.0 H235.7"/>
</g>
<rect x="226.7" y="119.7" width="10.8" height="10.8" fill="#009400"/>
<g stroke="#009400" stroke-width="1.8" fill="none">
<path d="M245.0 137.6 H276.1 M245.0 133.9 V141.2 M276.1 133.9 V141.2"/>
<path d="M263.2 128.0 V149.2 M259.5 128.0 H266.8 M259.5 149.2 H266.8"/>
</g>
<rect x="257.8" y="132.2" width="10.8" height="10.8" fill="#009400"/>
<g stroke="#009400" stroke-width="1.8" fill="none">
<path d="M276.1 167.2 H307.2 M276.1 163.5 V170.8 M307.2 163.5 V170.8"/>
<path d="M294.3 154.2 V184.5 M290.7 154.2 H298.0 M290.7 184.5 H298.0"/>
</g>
<rect x="288.9" y="161.8" width="10.8" height="10.8" fill="#009400"/>
<g stroke="#009400" stroke-width="1.8" fill="none">
<path d="M307.2 173.5 H338.3 M307.2 169.8 V177.2 M338.3 169.8 V177.2"/>
<path d="M325.4 162.7 V188.0 M321.8 162.7 H329.1 M321.8 188.0 H329.1"/>
</g>
<rect x="320.0" y="168.1" width="10.8" height="10.8" fill="#009400"/>
<g stroke="#009400" stroke-width="1.8" fill="none">
<path d="M338.3 184.3 H369.5 M338.3 180.7 V188.0 M369.5 180.7 V188.0"/>
<path d="M356.5 171.6 V200.5 M352.9 171.6 H360.2 M352.9 200.5 H360.2"/>
</g>
<rect x="351.1" y="178.9" width="10.8" height="10.8" fill="#009400"/>
<g stroke="#009400" stroke-width="1.8" fill="none">
<path d="M369.5 192.3 H400.6 M369.5 188.7 V196.0 M400.6 188.7 V196.0"/>
<path d="M387.7 180.2 V208.6 M384.0 180.2 H391.3 M384.0 208.6 H391.3"/>
</g>
<rect x="382.3" y="186.9" width="10.8" height="10.8" fill="#009400"/>
<g stroke="#ff9900" stroke-width="2.2" fill="none">
<path d="M399.5 208.3 H416.1 M399.5 204.7 V212.0 M416.1 204.7 V212.0"/>
<path d="M408.6 195.3 V225.7 M405.0 195.3 H412.2 M405.0 225.7 H412.2"/>
</g>
<circle cx="408.6" cy="208.3" r="5.0" fill="none" stroke="#ff9900" stroke-width="2.2"/>
<g stroke="#ff9900" stroke-width="2.2" fill="none">
<path d="M414.3 222.3 H431.3 M414.3 218.7 V226.0 M431.3 218.7 V226.0"/>
<path d="M423.8 207.3 V239.4 M420.2 207.3 H427.4 M420.2 239.4 H427.4"/>
</g>
<circle cx="423.8" cy="222.3" r="5.0" fill="none" stroke="#ff9900" stroke-width="2.2"/>
<g stroke="#ff9900" stroke-width="2.2" fill="none">
<path d="M430.6 224.2 H447.2 M430.6 220.5 V227.8 M447.2 220.5 V227.8"/>
<path d="M439.0 209.0 V246.6 M435.4 209.0 H442.6 M435.4 246.6 H442.6"/>
</g>
<circle cx="439.0" cy="224.2" r="5.0" fill="none" stroke="#ff9900" stroke-width="2.2"/>
<g stroke="#ff9900" stroke-width="2.2" fill="none">
<path d="M446.3 252.2 H463.6 M446.3 248.5 V255.8 M463.6 248.5 V255.8"/>
<path d="M454.9 231.1 V285.5 M451.2 231.1 H458.5 M451.2 285.5 H458.5"/>
</g>
<circle cx="454.9" cy="252.2" r="5.0" fill="none" stroke="#ff9900" stroke-width="2.2"/>
<g stroke="#ff9900" stroke-width="2.2" fill="none">
<path d="M461.7 263.8 H478.8 M461.7 260.2 V267.4 M478.8 260.2 V267.4"/>
<path d="M470.6 243.1 V298.8 M467.0 243.1 H474.2 M467.0 298.8 H474.2"/>
</g>
<circle cx="470.6" cy="263.8" r="5.0" fill="none" stroke="#ff9900" stroke-width="2.2"/>
<g stroke="#000" stroke-width="1.25" fill="none" stroke-linecap="butt">
<rect x="89.4" y="25.2" width="620.3" height="489.3" stroke-width="1.6"/>
<path d="M120.5 514.5v-7.4 M120.5 25.2v7.4 M138.7 514.5v-7.4 M138.7 25.2v7.4 M151.6 514.5v-7.4 M151.6 25.2v7.4 M161.7 514.5v-7.4 M161.7 25.2v7.4 M169.8 514.5v-7.4 M169.8 25.2v7.4 M176.8 514.5v-7.4 M176.8 25.2v7.4 M182.8 514.5v-7.4 M182.8 25.2v7.4 M188.0 514.5v-7.4 M188.0 25.2v7.4 M192.8 514.5v-14.2 M192.8 25.2v14.2 M223.9 514.5v-7.4 M223.9 25.2v7.4 M242.1 514.5v-7.4 M242.1 25.2v7.4 M255.0 514.5v-7.4 M255.0 25.2v7.4 M265.0 514.5v-7.4 M265.0 25.2v7.4 M273.2 514.5v-7.4 M273.2 25.2v7.4 M280.1 514.5v-7.4 M280.1 25.2v7.4 M286.1 514.5v-7.4 M286.1 25.2v7.4 M291.4 514.5v-7.4 M291.4 25.2v7.4 M296.1 514.5v-14.2 M296.1 25.2v14.2 M327.3 514.5v-7.4 M327.3 25.2v7.4 M345.5 514.5v-7.4 M345.5 25.2v7.4 M358.4 514.5v-7.4 M358.4 25.2v7.4 M368.4 514.5v-7.4 M368.4 25.2v7.4 M376.6 514.5v-7.4 M376.6 25.2v7.4 M383.5 514.5v-7.4 M383.5 25.2v7.4 M389.5 514.5v-7.4 M389.5 25.2v7.4 M394.8 514.5v-7.4 M394.8 25.2v7.4 M399.5 514.5v-14.2 M399.5 25.2v14.2 M430.6 514.5v-7.4 M430.6 25.2v7.4 M448.8 514.5v-7.4 M448.8 25.2v7.4 M461.7 514.5v-7.4 M461.7 25.2v7.4 M471.8 514.5v-7.4 M471.8 25.2v7.4 M479.9 514.5v-7.4 M479.9 25.2v7.4 M486.9 514.5v-7.4 M486.9 25.2v7.4 M492.9 514.5v-7.4 M492.9 25.2v7.4 M498.2 514.5v-7.4 M498.2 25.2v7.4 M502.9 514.5v-14.2 M502.9 25.2v14.2 M534.0 514.5v-7.4 M534.0 25.2v7.4 M552.2 514.5v-7.4 M552.2 25.2v7.4 M565.1 514.5v-7.4 M565.1 25.2v7.4 M575.1 514.5v-7.4 M575.1 25.2v7.4 M583.3 514.5v-7.4 M583.3 25.2v7.4 M590.2 514.5v-7.4 M590.2 25.2v7.4 M596.2 514.5v-7.4 M596.2 25.2v7.4 M601.5 514.5v-7.4 M601.5 25.2v7.4 M606.2 514.5v-14.2 M606.2 25.2v14.2 M637.4 514.5v-7.4 M637.4 25.2v7.4 M655.6 514.5v-7.4 M655.6 25.2v7.4 M668.5 514.5v-7.4 M668.5 25.2v7.4 M678.5 514.5v-7.4 M678.5 25.2v7.4 M686.7 514.5v-7.4 M686.7 25.2v7.4 M693.6 514.5v-7.4 M693.6 25.2v7.4 M699.6 514.5v-7.4 M699.6 25.2v7.4 M704.9 514.5v-7.4 M704.9 25.2v7.4 M89.4 499.0h7.4 M89.4 487.1h7.4 M709.7 512.5h-7.6 M89.4 477.4h7.4 M709.7 502.8h-7.6 M89.4 469.2h7.4 M709.7 494.6h-7.6 M89.4 462.2h7.4 M709.7 487.5h-7.6 M89.4 455.9h7.4 M709.7 481.2h-7.6 M89.4 450.3h14.6 M709.7 475.6h-15.0 M89.4 413.5h7.4 M709.7 438.7h-7.6 M89.4 392.0h7.4 M709.7 417.1h-7.6 M89.4 376.7h7.4 M709.7 401.8h-7.6 M89.4 364.8h7.4 M709.7 389.9h-7.6 M89.4 355.2h7.4 M709.7 380.2h-7.6 M89.4 347.0h7.4 M709.7 371.9h-7.6 M89.4 339.9h7.4 M709.7 364.8h-7.6 M89.4 333.6h7.4 M709.7 358.6h-7.6 M89.4 328.0h14.6 M709.7 352.9h-15.0 M89.4 291.2h7.4 M709.7 316.0h-7.6 M89.4 269.7h7.4 M709.7 294.4h-7.6 M89.4 254.4h7.4 M709.7 279.1h-7.6 M89.4 242.6h7.4 M709.7 267.2h-7.6 M89.4 232.9h7.4 M709.7 257.5h-7.6 M89.4 224.7h7.4 M709.7 249.3h-7.6 M89.4 217.6h7.4 M709.7 242.2h-7.6 M89.4 211.4h7.4 M709.7 235.9h-7.6 M89.4 205.8h14.6 M709.7 230.3h-15.0 M89.4 169.0h7.4 M709.7 193.3h-7.6 M89.4 147.4h7.4 M709.7 171.7h-7.6 M89.4 132.2h7.4 M709.7 156.4h-7.6 M89.4 120.3h7.4 M709.7 144.5h-7.6 M89.4 110.6h7.4 M709.7 134.8h-7.6 M89.4 102.4h7.4 M709.7 126.6h-7.6 M89.4 95.3h7.4 M709.7 119.5h-7.6 M89.4 89.1h7.4 M709.7 113.2h-7.6 M89.4 83.5h14.6 M709.7 107.6h-15.0 M89.4 46.7h7.4 M709.7 70.7h-7.6 M709.7 49.1h-7.6 M709.7 33.7h-7.6"/>
</g>
<g font-family="'Liberation Serif', serif" fill="#000" style="font-kerning:none;text-rendering:geometricPrecision">
<text x="75.0" y="544.2" font-size="20.5">10<tspan dy="-10.6" font-size="16.5">2</tspan></text>
<text x="178.4" y="544.2" font-size="20.5">10<tspan dy="-10.6" font-size="16.5">3</tspan></text>
<text x="281.7" y="544.2" font-size="20.5">10<tspan dy="-10.6" font-size="16.5">4</tspan></text>
<text x="385.1" y="544.2" font-size="20.5">10<tspan dy="-10.6" font-size="16.5">5</tspan></text>
<text x="488.5" y="544.2" font-size="20.5">10<tspan dy="-10.6" font-size="16.5">6</tspan></text>
<text x="591.9" y="544.2" font-size="20.5">10<tspan dy="-10.6" font-size="16.5">7</tspan></text>
<text x="695.2" y="544.2" font-size="20.5">10<tspan dy="-10.6" font-size="16.5">8</tspan></text>
<text x="41.6" y="459.3" font-size="20.5">10<tspan dy="-10.2" font-size="16.5">-6</tspan></text>
<text x="721.9" y="484.8" font-size="20.5">10<tspan dy="-10.2" font-size="16.5">-6</tspan></text>
<text x="41.6" y="337.0" font-size="20.5">10<tspan dy="-10.2" font-size="16.5">-5</tspan></text>
<text x="721.9" y="362.1" font-size="20.5">10<tspan dy="-10.2" font-size="16.5">-5</tspan></text>
<text x="41.6" y="214.8" font-size="20.5">10<tspan dy="-10.2" font-size="16.5">-4</tspan></text>
<text x="721.9" y="239.5" font-size="20.5">10<tspan dy="-10.2" font-size="16.5">-4</tspan></text>
<text x="41.6" y="92.5" font-size="20.5">10<tspan dy="-10.2" font-size="16.5">-3</tspan></text>
<text x="721.9" y="116.8" font-size="20.5">10<tspan dy="-10.2" font-size="16.5">-3</tspan></text>
<text x="297.1" y="573.6" font-size="23">Photon Energy [MeV]</text>
<text transform="translate(26.6 423.0) rotate(-90)" font-size="23.07"><tspan font-style="italic">E</tspan><tspan dy="-12" font-size="17.5">2</tspan><tspan dy="12"> </tspan><tspan font-style="italic">dN/dE</tspan> [MeV<tspan dy="-12" font-size="17.5">2</tspan><tspan dy="12">/cm</tspan><tspan dy="-12" font-size="17.5">2</tspan><tspan dy="12">/s/sr/MeV]</tspan></text>
<g transform="translate(790.2 339.8) rotate(-90)" font-size="23">
<text x="0" y="0" textLength="19" lengthAdjust="spacingAndGlyphs">νI</text><text x="19.6" y="5.8" font-size="20">ν</text><text x="32.0" y="0" textLength="67.6" lengthAdjust="spacingAndGlyphs">[nW/m</text><text x="100.4" y="-12" font-size="17.5">2</text><text x="109.4" y="0">/sr]</text>
</g>
<text x="201.2" y="57.9" font-size="23">Γ</text>
<text x="215.3" y="64.0" font-size="18">ph</text>
<text x="233.1" y="57.9" font-size="23">=1.5,</text>
<text x="287.0" y="57.9" font-size="23">E</text>
<text x="300.9" y="64.0" font-size="18">max</text>
<text x="337.1" y="57.9" font-size="23">=</text>
<text x="356.9" y="57.9" font-size="23">60</text>
<text x="387.3" y="57.9" font-size="23">TeV,</text>
<text x="201.4" y="90.4" font-size="23" font-style="italic">j</text>
<text x="207.7" y="96.8" font-size="18">int</text>
<text x="225.9" y="90.4" font-size="23" textLength="19.4" lengthAdjust="spacingAndGlyphs">∝</text>
<text x="242.9" y="90.4" font-size="23">(1+</text>
<text x="275.6" y="90.4" font-size="23" font-style="italic">z</text>
<text x="286.0" y="90.4" font-size="23">)</text>
<text x="292.0" y="80.2" font-size="18">0</text>
<text x="649" y="51.4" font-size="20.8" text-anchor="end">FSRQ (MA12)</text>
<text x="649" y="72.1" font-size="20.8" text-anchor="end">BL Lac (Fermi10+EBL)</text>
<text x="649" y="92.6" font-size="20.8" text-anchor="end">Radio Galaxy (YI11)</text>
<text x="649" y="112.8" font-size="20.8" text-anchor="end">Starburst Galaxy (0.8×SV11)</text>
<text x="649" y="133.4" font-size="20.8" text-anchor="end">Cascade + Absorbed (Self-Limit)</text>
<text x="649" y="154.3" font-size="20.8" text-anchor="end">Total</text>
<text x="649" y="175.4" font-size="20.8" text-anchor="end">Upper Limit</text>
<text x="649" y="195.8" font-size="20.8" text-anchor="end"><tspan font-style="italic">Fermi</tspan> (Abdo et al. 2010)</text>
<text x="649" y="215.7" font-size="20.8" text-anchor="end"><tspan font-style="italic">Fermi</tspan> (TeVPA 2011)</text>
</g>
<g fill="none">
<path d="M661.3 44.8H697.6" stroke="#00ff00" stroke-width="2.5" stroke-dasharray="3.5 3.6"/>
<path d="M661.3 65.6H697.6" stroke="#0000ff" stroke-width="2.5" stroke-dasharray="14.3 4 2.9 2.9"/>
<path d="M661.3 86.4H697.6" stroke="#ff00ff" stroke-width="2.5" stroke-dasharray="14.3 4 2.6 3.8 2.6 2"/>
<path d="M661.3 107.0H697.6" stroke="#00ffff" stroke-width="2.5" stroke-dasharray="14.3 4 2.6 3.3 2.4 3.3 2.6 2.5"/>
<path d="M661.3 128.0H697.6" stroke="#ff0000" stroke-width="5"/>
<path d="M661.3 148.7H697.6" stroke="#000" stroke-width="5" stroke-dasharray="13.8 9.6"/>
<path d="M661.3 169.5H697.6" stroke="#000" stroke-width="10.7"/>
</g>
<g stroke="#009400" stroke-width="1.8" fill="none">
<path d="M661.5 190.4 H697.2 M661.5 186.8 V194.1 M697.2 186.8 V194.1"/>
<path d="M679.5 190.4 V190.4 M675.8 190.4 H683.1 M675.8 190.4 H683.1"/>
</g>
<rect x="674.1" y="185.0" width="10.8" height="10.8" fill="#009400"/>
<g stroke="#ff9900" stroke-width="2.2" fill="none">
<path d="M661.5 210.9 H697.2 M661.5 207.2 V214.6 M697.2 207.2 V214.6"/>
<path d="M679.5 210.9 V210.9 M675.8 210.9 H683.1 M675.8 210.9 H683.1"/>
</g>
<circle cx="679.5" cy="210.9" r="5.0" fill="none" stroke="#ff9900" stroke-width="2.2"/>
</svg>
</body></html>
